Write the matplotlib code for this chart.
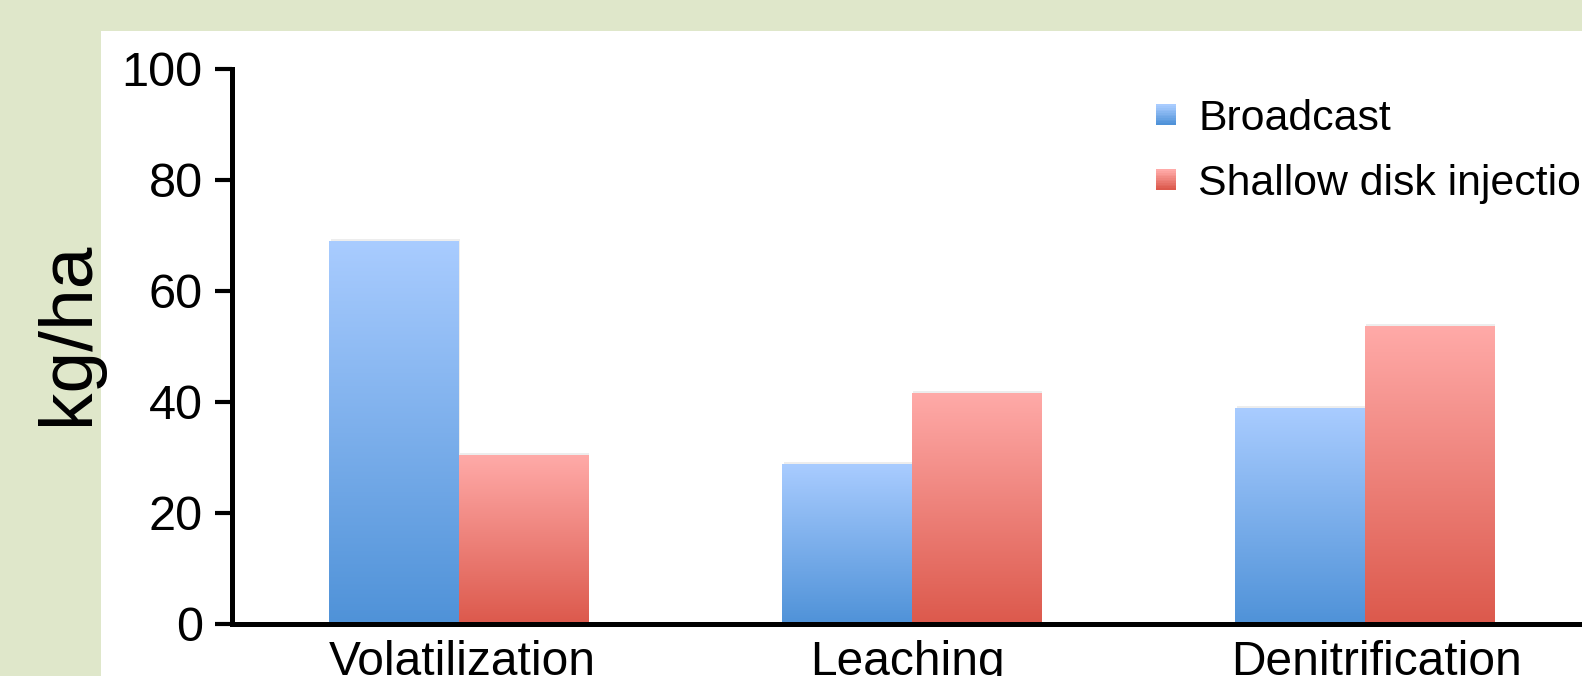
import numpy as np
import matplotlib.pyplot as plt
import matplotlib.transforms as mtransforms
from matplotlib.colors import LinearSegmentedColormap
from matplotlib.patches import Rectangle
from matplotlib.legend_handler import HandlerBase

categories = ['Volatilization', 'Leaching', 'Denitrification']
broadcast = [69.0, 28.7, 38.8]
shallow = [30.4, 41.6, 53.6]
series_names = ['Broadcast', 'Shallow disk injection']
yticks = [0, 20, 40, 60, 80, 100]

blue_top, blue_bottom = '#a9ccff', '#4f92d8'
red_top, red_bottom = '#ffaaa8', '#dc594c'

plt.rcParams['font.family'] = ['Liberation Sans', 'DejaVu Sans']


def grad_cmap(top, bottom):
    return LinearSegmentedColormap.from_list('', [bottom, top])


class GradientSquare(HandlerBase):
    # legend key drawn as a small square with a vertical colour ramp
    def __init__(self, top, bottom):
        super().__init__()
        self.cmap = grad_cmap(top, bottom)

    def create_artists(self, legend, orig_handle, xdescent, ydescent,
                       width, height, fontsize, trans):
        n = 12
        side = min(width, height)
        x0 = -xdescent + (width - side) / 2
        y0 = -ydescent + (height - side) / 2
        arts = []
        for i in range(n):
            arts.append(Rectangle((x0, y0 + side * i / n), side, side / n + 0.3,
                                  facecolor=self.cmap(i / (n - 1)),
                                  edgecolor='none', transform=trans))
        return arts


fig = plt.figure(figsize=(15.82, 6.76), dpi=100)
fig.patch.set_facecolor('#dfe7ca')
fig.patches.append(Rectangle((101 / 1582, 0), 1, 1 - 31 / 676,
                             transform=fig.transFigure, facecolor='white',
                             edgecolor='none', zorder=-10))

ax = fig.add_axes([232 / 1582, 52.5 / 676, 1359 / 1582, 555 / 676])
ax.set_facecolor('none')

x = np.arange(len(categories))
w = 0.285
b1 = ax.bar(x - w / 2, broadcast, w, facecolor='none', edgecolor='none')
b2 = ax.bar(x + w / 2, shallow, w, facecolor='none', edgecolor='none')

ramp = np.linspace(0, 1, 256).reshape(-1, 1)
for bars, top, bottom in [(b1, blue_top, blue_bottom), (b2, red_top, red_bottom)]:
    cm = grad_cmap(top, bottom)
    for p in bars:
        x0, h, bw = p.get_x(), p.get_height(), p.get_width()
        # soft shadow behind each bar
        ax.add_patch(Rectangle((x0 + 0.003, 0), bw, h + 0.35, facecolor='#000000',
                               alpha=0.07, edgecolor='none', zorder=1.5))
        ax.imshow(ramp, extent=[x0, x0 + bw, 0, h], origin='lower', cmap=cm,
                  aspect='auto', interpolation='bilinear', zorder=2)

ax.set_xlim(-0.5, 2.5)
ax.set_ylim(0, 100)
ax.set_yticks(yticks)
ax.set_xticks(x)
ax.set_xticklabels(categories)

for s in ['top', 'right']:
    ax.spines[s].set_visible(False)
ax.spines['left'].set_linewidth(3.6)
ax.spines['bottom'].set_linewidth(3.6)
ax.spines['bottom'].set_zorder(3)
ax.tick_params(axis='y', direction='out', length=12, width=3, pad=9, labelsize=35)
ax.tick_params(axis='x', length=0, pad=12, labelsize=34.5)

# nudge category labels sideways a little (pixels)
for lbl, dx in zip(ax.get_xticklabels(), [4, -4, 12]):
    lbl.set_transform(lbl.get_transform() +
                      mtransforms.ScaledTranslation(dx / 100, 0, fig.dpi_scale_trans))

ax.set_ylabel('kg/ha', fontsize=54)
ax.yaxis.set_label_coords(-0.095, 0.523)

handles = [Rectangle((0, 0), 1, 1), Rectangle((0, 0), 1, 1)]
ax.legend(handles, series_names, fontsize=30.8, frameon=False,
          loc='upper left', bbox_to_anchor=(1156 / 1582, 1 - 99 / 676),
          bbox_transform=fig.transFigure, borderpad=0, borderaxespad=0,
          handlelength=0.47, handleheight=0.47, handletextpad=0.52,
          labelspacing=0.58,
          handler_map={handles[0]: GradientSquare(blue_top, blue_bottom),
                       handles[1]: GradientSquare(red_top, red_bottom)})

fig.savefig('out.png', dpi=100, facecolor=fig.get_facecolor())
